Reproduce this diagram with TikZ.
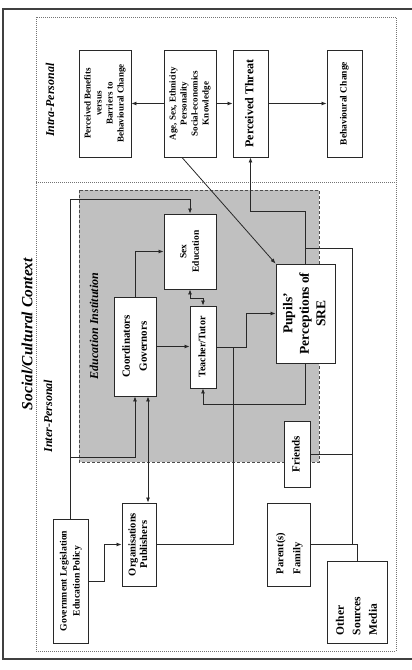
\documentclass[tikz,border=0pt]{standalone}
\usepackage{fontspec}
\setmainfont{Liberation Serif}
\usetikzlibrary{arrows.meta}
\definecolor{eduGray}{RGB}{192,192,192}
\definecolor{lineC}{RGB}{40,40,40}
\newcommand{\rtext}[3]{\rotatebox{90}{\fontsize{#1}{#2}\selectfont\bfseries\begin{tabular}{@{}c@{}}#3\end{tabular}}}
\newcommand{\ltext}[5]{\rotatebox{90}{\makebox[#4][l]{\hspace{#5}\fontsize{#1}{#2}\selectfont\bfseries\begin{tabular}{@{}l@{}}#3\end{tabular}}}}
\begin{document}
\begin{tikzpicture}[x=1pt,y=-1pt,
  box/.style={draw=lineC, fill=white, line width=0.9pt, inner sep=0pt},
  conn/.style={draw=lineC, line width=0.8pt},
  arr/.style={conn, -{Latex[length=5pt,width=4pt]}},
  dbl/.style={conn, {Latex[length=5pt,width=4pt]}-{Latex[length=5pt,width=4pt]}},
  lab/.style={rotate=90, font=\fontsize{12}{14}\selectfont\bfseries\itshape, inner sep=0pt}]
\useasboundingbox (0,0) rectangle (412,670);
% frames
\draw[line width=1.2pt, black!75] (412,9) -- (3,9) -- (3,659) -- (412,659);
\draw[black!55, line width=0.6pt, dash pattern=on 1pt off 1pt] (36,17) rectangle (396,651);
\draw[black!55, line width=0.6pt, dash pattern=on 1pt off 1pt] (36,182) -- (396,182);
\draw[fill=eduGray, draw=black!70, line width=0.7pt, dash pattern=on 3pt off 2pt] (79,190) rectangle (319,462);
% labels
\node[lab, font=\fontsize{15.5}{19}\selectfont\bfseries\itshape] (sctx) at (27,334) {Social/Cultural Context};
\node[lab] (intra) at (50,100) {Intra-Personal};
\node[lab] (inter) at (48,416) {Inter-Personal};
\node[lab] (edu) at (94,326) {Education Institution};
% intra boxes
\node[box, minimum width=52pt, minimum height=107pt] (ben) at (105,103.5) {\rtext{9}{11}{Perceived Benefits\\versus\\Barriers to\\Behavioural Change}};
\node[box, minimum width=52pt, minimum height=107pt] (age) at (190,103.5) {\rtext{9}{11}{Age, Sex, Ethnicity\\Personality\\Social-economics\\Knowledge}};
\node[box, minimum width=35pt, minimum height=107pt] (thr) at (250.5,103.5) {\rtext{12}{14}{Perceived Threat}};
\node[box, minimum width=35pt, minimum height=107pt] (beh) at (344.5,103.5) {\rtext{9.5}{11}{Behavioural Change}};
% inter boxes
\node[box, minimum width=52pt, minimum height=75pt] (sex) at (190,251.5) {\rtext{9.5}{12.5}{Sex\\Education}};
\node[box, minimum width=42pt, minimum height=99pt] (coo) at (135,346.5) {\rtext{11}{17}{Coordinators\\Governors}};
\node[box, minimum width=26pt, minimum height=82pt] (tea) at (203,347) {\rtext{10}{12}{Teacher/Tutor}};
\node[box, minimum width=59pt, minimum height=99pt] (pup) at (305.5,313.5) {\rtext{13.5}{16.5}{Pupils’\\Perceptions of\\SRE}};
\node[box, minimum width=34pt, minimum height=83pt] (org) at (139,544.5) {\rtext{10.5}{11.5}{Organisations\\Publishers}};
\node[box, minimum width=35pt, minimum height=124pt] (gov) at (70.5,581) {\rtext{9.7}{13}{Government Legislation\\Education Policy}};
\node[box, minimum width=26pt, minimum height=66pt] (fri) at (297,454) {\rtext{11}{13}{Friends}};
\node[box, minimum width=43pt, minimum height=83pt] (par) at (288.5,544.5) {\ltext{10.5}{17}{Parent(s)\\Family}{83pt}{12pt}};
\node[box, minimum width=60pt, minimum height=82pt] (oth) at (357,602) {\ltext{11.5}{16.5}{Other\\Sources\\Media}{82pt}{8pt}};
% bend coordinates
\coordinate (tbend) at (0,211);
\coordinate (busTop) at (352,248);
\coordinate (pbend) at (0,404);
\coordinate (gbend) at (0,199);
\coordinate (cbend) at (0,457);
\coordinate (tjoin) at (246,347);
\coordinate (ojoin) at (233,347);
\coordinate (gjoin) at (104,581);
% intra connectors
\draw[arr] (age.west) -- (ben.east);
\draw[arr] (age.east) -- (thr.west);
\draw[arr] (thr.east) -- (beh.west);
\draw[arr] ([xshift=-8pt]age.south) -- (pup.north west);
% pupils to threat and bus
\draw[arr] (pup.north) -- (pup.north |- tbend) -| (thr.south);
\draw[conn] (pup.north |- busTop) -- (busTop) -- (busTop |- par.east);
\draw[conn] (fri.east) -- (fri.east -| busTop);
\draw[conn] (par.east) -| (oth.north);
% pupils to teacher
\draw[arr] (pup.south) -- (pup.south |- pbend) -| (tea.south);
% teacher to pupils
\draw[arr] (tea.east) -- (tjoin) |- (pup.west);
\draw[conn] (org.east) -| (ojoin);
% coordinators
\draw[arr] (coo.east) -- (tea.west |- coo.east);
\draw[arr] (coo.north) |- (sex.west);
\draw[dbl] (sex.south) -- ++(0,9) -| (tea.north);
% government
\draw[arr] (gov.north) -- (gov.north |- gbend) -| (sex.north);
\draw[arr] (gov.north |- cbend) -| (coo.south);
\draw[dbl] ([xshift=13pt]coo.south) -- ([xshift=13pt]coo.south |- org.north);
\draw[arr] (gov.east) -- (gjoin) |- (org.west);
\end{tikzpicture}
\end{document}
